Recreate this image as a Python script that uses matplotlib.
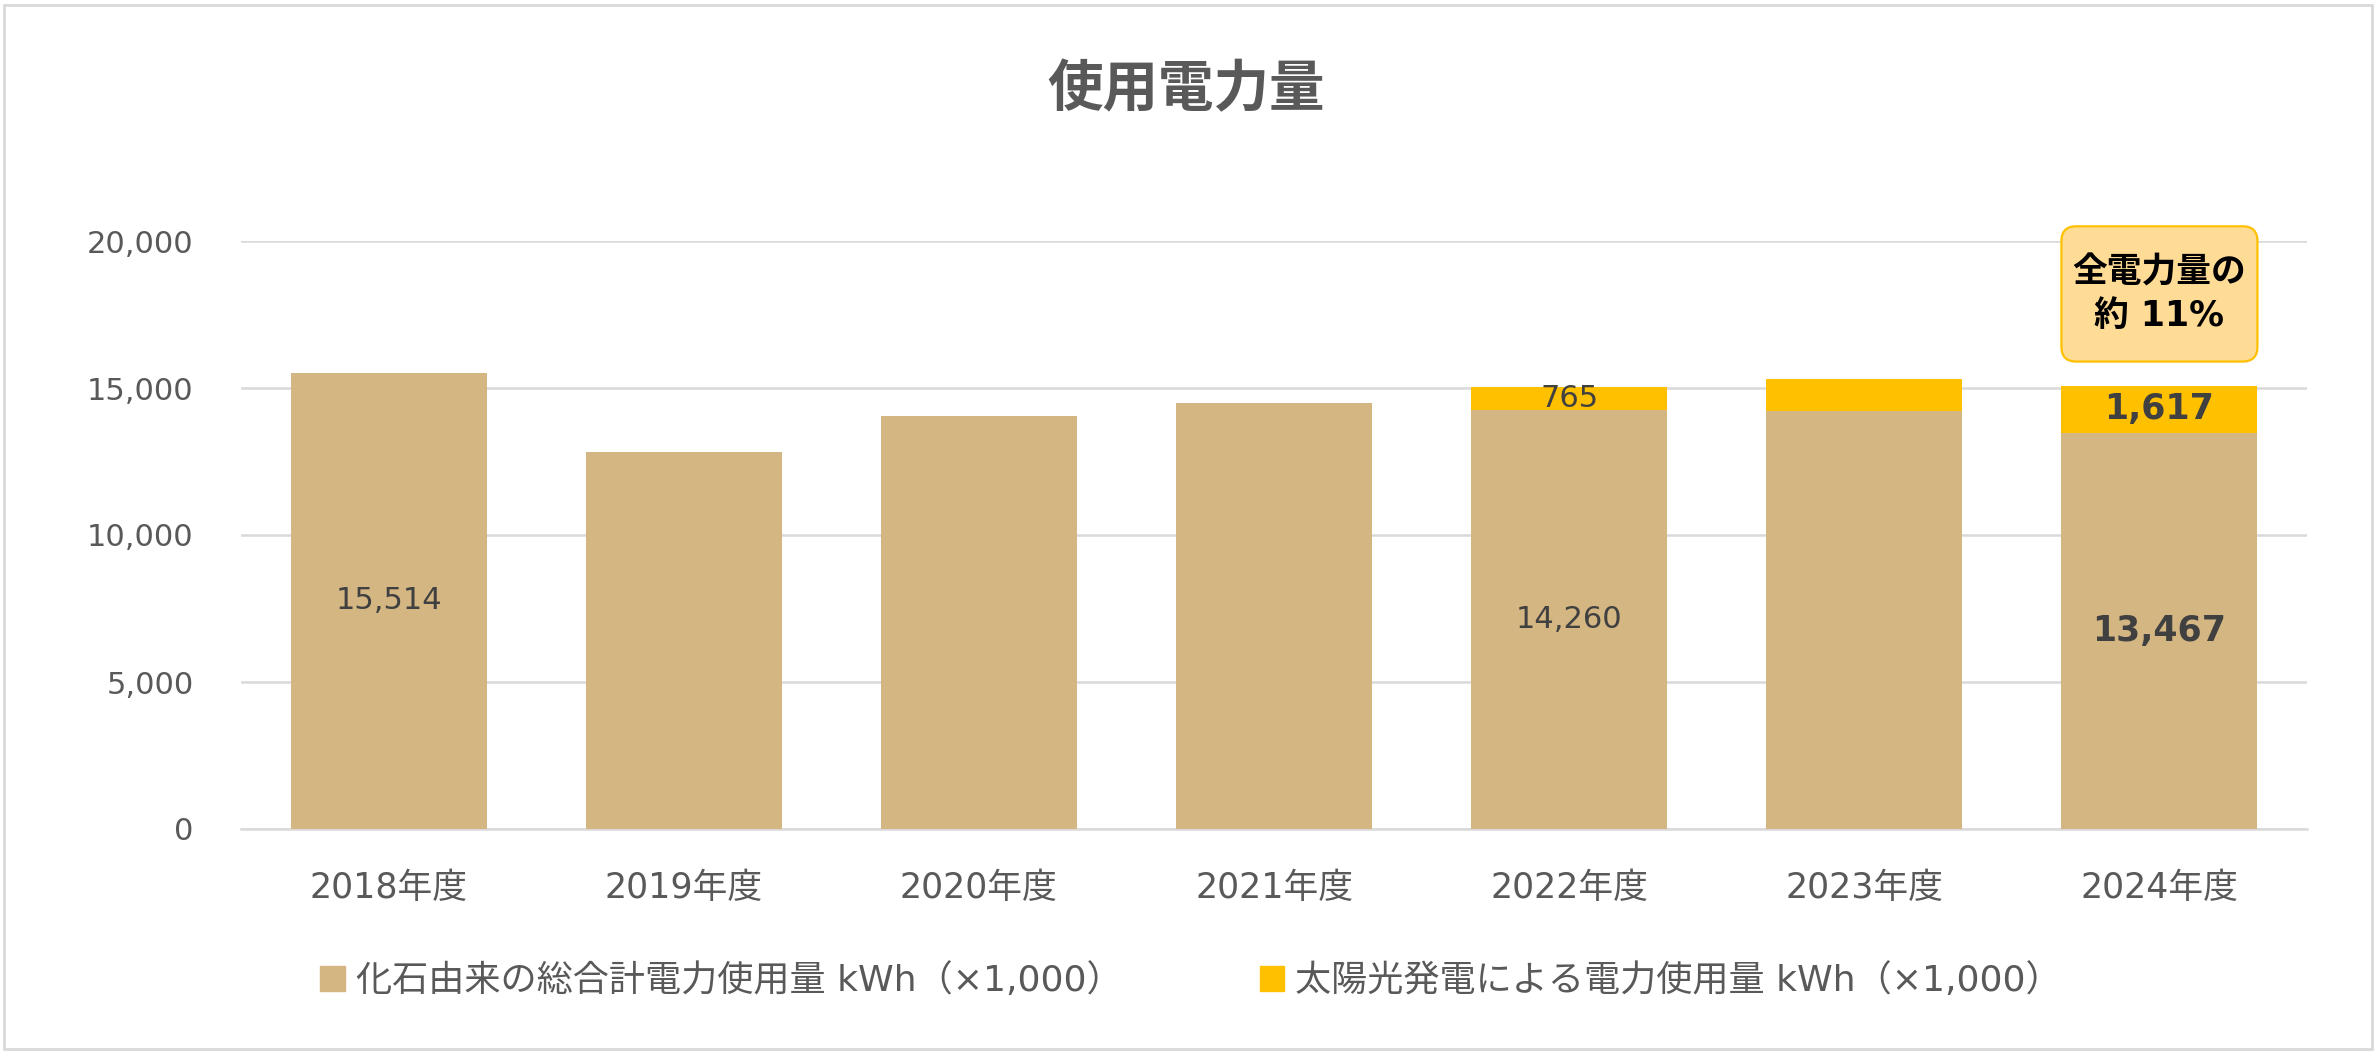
import matplotlib
matplotlib.use("Agg")
from matplotlib import pyplot as plt
from matplotlib.patches import Patch, Rectangle, FancyBboxPatch

# latin glyphs from DejaVu (close to the Verdana-like digits), Japanese from Noto CJK
plt.rcParams["font.family"] = ["DejaVu Sans", "Noto Sans CJK JP"]

# data (kWh x 1,000)
years = ["2018年度", "2019年度", "2020年度", "2021年度", "2022年度", "2023年度", "2024年度"]
fossil = [15514, 12830, 14060, 14500, 14260, 14220, 13467]
solar = [0, 0, 0, 0, 765, 1070, 1617]
# which bars carry a value label
fossil_labels = ["15,514", "", "", "", "14,260", "", "13,467"]
solar_labels = ["", "", "", "", "765", "", "1,617"]
y_ticks = [0, 5000, 10000, 15000, 20000]

fossil_name = "化石由来の総合計電力使用量 kWh（×1,000）"
solar_name = "太陽光発電による電力使用量 kWh（×1,000）"
title = "使用電力量"
callout = "全電力量の\n約 11%"

c_fossil = "#D4B683"
c_solar = "#FFC000"
c_text = "#595959"
c_label = "#404040"
c_grid = "#D9D9D9"

W, H = 2378, 1058
AX_W, AX_H = 2066, 588
fig = plt.figure(figsize=(W / 100, H / 100), dpi=100)
ax = fig.add_axes([241 / W, 229 / H, AX_W / W, AX_H / H])

bw = 0.664
x = list(range(len(years)))
b1 = ax.bar(x, fossil, width=bw, color=c_fossil, zorder=3)
b2 = ax.bar(x, solar, width=bw, bottom=fossil, color=c_solar, zorder=3)

t1 = ax.bar_label(b1, labels=fossil_labels, label_type="center", fontsize=22, color=c_label)
t2 = ax.bar_label(b2, labels=solar_labels, label_type="center", fontsize=22, color=c_label)
for t in (t1[-1], t2[-1]):
    t.set_fontweight("bold")
    t.set_fontsize(25)

ax.set_xlim(-0.5, len(years) - 0.5)
ax.set_ylim(0, 20000)
ax.set_yticks(y_ticks)
ax.set_yticklabels([f"{v:,}" for v in y_ticks])
ax.set_xticks(x)
ax.set_xticklabels(years)
ax.tick_params(axis="y", length=0, pad=34, labelsize=22, labelcolor=c_text)
ax.tick_params(axis="x", length=0, pad=30, labelsize=25, labelcolor=c_text)
ax.yaxis.grid(True, color=c_grid, linewidth=1.8, zorder=0)
ax.set_axisbelow(True)
for s in ["top", "right", "left"]:
    ax.spines[s].set_visible(False)
ax.spines["bottom"].set_color(c_grid)
ax.spines["bottom"].set_linewidth(1.8)

# callout box over the last bar, same width as the bar
xl, yl = ax.get_xlim(), ax.get_ylim()
aspect = ((yl[1] - yl[0]) / AX_H) / ((xl[1] - xl[0]) / AX_W)
last = len(years) - 1
box_lo, box_hi = 15900, 20500
box = FancyBboxPatch((last - bw / 2, box_lo), bw, box_hi - box_lo,
                     boxstyle="round,pad=0,rounding_size=0.05", mutation_aspect=aspect,
                     fc="#FFDC96", ec=c_solar, lw=1.6, clip_on=False, zorder=4)
ax.add_patch(box)
ax.text(last, (box_lo + box_hi) / 2, callout, ha="center", va="center", fontsize=25,
        fontweight="bold", color="black", linespacing=1.35, clip_on=False, zorder=5)

fig.text(1186 / W, 1 - 91 / H, title, ha="center", va="center", fontsize=40,
         fontweight="bold", color=c_text)

handles = [Patch(color=c_fossil), Patch(color=c_solar)]
fig.legend(handles, [fossil_name, solar_name], loc="center", ncol=2,
           bbox_to_anchor=(1191 / W, 1 - 981 / H), frameon=False, fontsize=26,
           handlelength=0.68, handleheight=0.68, handletextpad=0.3, columnspacing=3.8,
           labelcolor=c_text, borderpad=0)

fig.patches.append(Rectangle((4 / W, 9 / H), 2368 / W, 1044 / H, transform=fig.transFigure,
                             fill=False, edgecolor=c_grid, linewidth=2))

fig.savefig("out.png", dpi=100)
